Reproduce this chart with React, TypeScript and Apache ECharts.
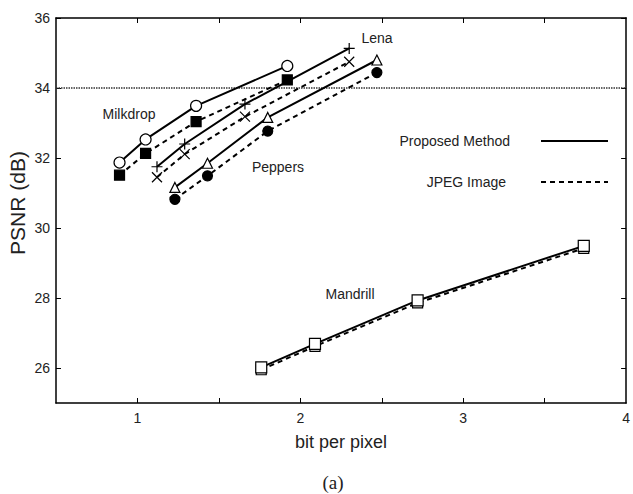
import React, { useEffect, useRef } from "react";
import * as echarts from "echarts";

const milkdropX = [0.89, 1.05, 1.36, 1.92];
const milkdropProposed = [31.87, 32.53, 33.49, 34.63];
const milkdropJpeg = [31.51, 32.13, 33.04, 34.23];

const lenaX = [1.12, 1.29, 1.66, 2.3];
const lenaProposed = [31.75, 32.4, 33.54, 35.13];
const lenaJpeg = [31.45, 32.11, 33.18, 34.75];

const peppersX = [1.23, 1.43, 1.8, 2.47];
const peppersProposed = [31.16, 31.85, 33.16, 34.8];
const peppersJpeg = [30.82, 31.49, 32.77, 34.44];

const mandrillX = [1.76, 2.09, 2.72, 3.74];
const mandrillProposed = [26.02, 26.69, 27.93, 29.49];
const mandrillJpeg = [25.95, 26.62, 27.86, 29.42];

const referenceLine = [[0.5, 34], [4, 34]];

const xTickValues = [1, 1.5, 2, 2.5, 3, 3.5];
const xLabelValues = [1, 2, 3, 4];
const yTickValues = [26, 28, 30, 32, 34, 36];

const FONT = "Liberation Sans";

const plusPath = "path://M0,5L10,5M5,0L5,10";
const crossPath = "path://M0,0L10,10M10,0L0,10";

function pairs(xs: number[], ys: number[]) {
  return xs.map((x, i) => [x, ys[i]]);
}

function lineSeries(
  name: string,
  xs: number[],
  ys: number[],
  dashed: boolean,
  symbol: string,
  size: number,
  fill: string,
  z: number
) {
  return {
    name,
    type: "line",
    data: pairs(xs, ys),
    symbol,
    symbolSize: size,
    z,
    lineStyle: { color: "#000", width: 2, type: dashed ? [5, 4] : "solid" },
    itemStyle: { color: fill, borderColor: "#000", borderWidth: 1.2 },
  };
}

export default function App() {
  const ref = useRef<HTMLDivElement>(null);
  useEffect(() => {
    if (!ref.current) return;
    const chart = echarts.init(ref.current, undefined, { renderer: "svg" });
    const axisLine = { show: true, lineStyle: { color: "#000", width: 1.5 } };
    const option: any = {
      animation: false,
      backgroundColor: "#fff",
      grid: { left: 56, right: 3, top: 18, bottom: 91 },
      xAxis: [
        {
          type: "value",
          min: 0.5,
          max: 4,
          interval: 0.5,
          axisLine,
          splitLine: { show: false },
          axisTick: { inside: true, length: 5, customValues: xTickValues, lineStyle: { color: "#000" } },
          axisLabel: {
            customValues: xLabelValues,
            fontFamily: FONT,
            fontSize: 14,
            color: "#222",
            margin: 8,
          },
          name: "bit per pixel",
          nameLocation: "middle",
          nameGap: 30,
          nameTextStyle: { fontFamily: FONT, fontSize: 18, color: "#222" },
        },
        {
          type: "value",
          position: "top",
          min: 0.5,
          max: 4,
          interval: 0.5,
          axisLine,
          splitLine: { show: false },
          axisTick: { inside: true, length: 5, customValues: xTickValues, lineStyle: { color: "#000" } },
          axisLabel: { show: false },
        },
      ],
      yAxis: [
        {
          type: "value",
          min: 25,
          max: 36,
          axisLine,
          splitLine: { show: false },
          axisTick: { inside: true, length: 5, customValues: yTickValues, lineStyle: { color: "#000" } },
          axisLabel: {
            customValues: yTickValues,
            fontFamily: FONT,
            fontSize: 14,
            color: "#222",
            margin: 6,
          },
        },
        {
          type: "value",
          position: "right",
          min: 25,
          max: 36,
          axisLine,
          splitLine: { show: false },
          axisTick: { inside: true, length: 5, customValues: yTickValues, lineStyle: { color: "#000" } },
          axisLabel: { show: false },
        },
      ],
      series: [
        {
          name: "ref",
          type: "line",
          data: referenceLine,
          symbol: "none",
          z: 1,
          lineStyle: { color: "#333", width: 1.5, type: [1.5, 1] },
        },
        lineSeries("Milkdrop JPEG", milkdropX, milkdropJpeg, true, "rect", 10, "#000", 2),
        lineSeries("Milkdrop Proposed", milkdropX, milkdropProposed, false, "circle", 11, "#fff", 3),
        lineSeries("Lena JPEG", lenaX, lenaJpeg, true, crossPath, 10, "#000", 2),
        lineSeries("Lena Proposed", lenaX, lenaProposed, false, plusPath, 11, "#000", 3),
        lineSeries("Peppers JPEG", peppersX, peppersJpeg, true, "circle", 10, "#000", 2),
        lineSeries("Peppers Proposed", peppersX, peppersProposed, false, "triangle", 10, "#fff", 3),
        lineSeries("Mandrill JPEG", mandrillX, mandrillJpeg, true, "rect", 10, "#fff", 2),
        lineSeries("Mandrill Proposed", mandrillX, mandrillProposed, false, "rect", 11, "#fff", 3),
      ],
      graphic: [
        { type: "text", x: 17, y: 203, rotation: Math.PI / 2, style: { text: "PSNR (dB)", font: `21px ${FONT}`, fill: "#222", align: "center", verticalAlign: "middle" } },
        { type: "text", x: 129, y: 114, style: { text: "Milkdrop", font: `14px ${FONT}`, fill: "#222", align: "center", verticalAlign: "middle" } },
        { type: "text", x: 377, y: 38, style: { text: "Lena", font: `14px ${FONT}`, fill: "#222", align: "center", verticalAlign: "middle" } },
        { type: "text", x: 278, y: 167, style: { text: "Peppers", font: `14px ${FONT}`, fill: "#222", align: "center", verticalAlign: "middle" } },
        { type: "text", x: 350, y: 294, style: { text: "Mandrill", font: `14px ${FONT}`, fill: "#222", align: "center", verticalAlign: "middle" } },
        { type: "text", x: 510, y: 141, style: { text: "Proposed Method", font: `14px ${FONT}`, fill: "#222", align: "right", verticalAlign: "middle" } },
        { type: "text", x: 506, y: 182, style: { text: "JPEG Image", font: `14px ${FONT}`, fill: "#222", align: "right", verticalAlign: "middle" } },
        { type: "line", shape: { x1: 541, y1: 141, x2: 608, y2: 141 }, style: { stroke: "#000", lineWidth: 2 } },
        { type: "line", shape: { x1: 541, y1: 182, x2: 608, y2: 182 }, style: { stroke: "#000", lineWidth: 2, lineDash: [5, 4] } },
        { type: "text", x: 333, y: 482, style: { text: "(a)", font: `19px "Liberation Serif"`, fill: "#222", align: "center", verticalAlign: "middle" } },
      ],
    };
    chart.setOption(option);
    return () => chart.dispose();
  }, []);
  return (
    <div
      ref={ref}
      style={{ position: "fixed", left: 0, top: 0, width: 633, height: 494 }}
    />
  );
}
